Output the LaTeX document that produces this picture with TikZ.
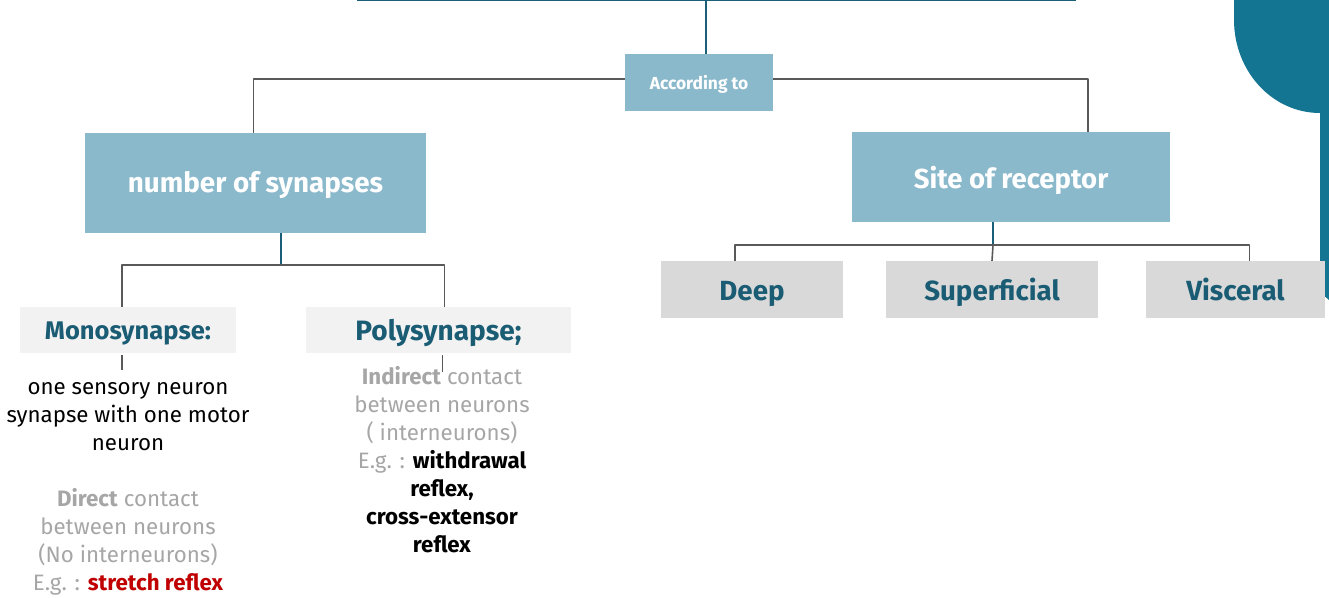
\documentclass[tikz,border=0pt]{standalone}
\usepackage{fontspec}
\setmainfont{Fira Sans}
\usetikzlibrary{positioning}
\definecolor{deepteal}{HTML}{1B5E78}
\definecolor{boxblue}{HTML}{8BB9CC}
\definecolor{boxgray}{HTML}{D9D9D9}
\definecolor{boxlight}{HTML}{F2F2F2}
\definecolor{titleteal}{HTML}{1A5C73}
\definecolor{notegray}{HTML}{A6A6A6}
\definecolor{linkgray}{HTML}{595959}
\definecolor{decoteal}{HTML}{147592}
\definecolor{egred}{HTML}{C00000}
\begin{document}
\begin{tikzpicture}[x=1pt,y=-1pt,line join=round,
  bluebox/.style={fill=boxblue,text=white,inner sep=0pt,text height=21pt,text depth=0pt},
  graybox/.style={fill=boxgray,text=titleteal,font=\fontsize{27.7}{30}\selectfont\bfseries,inner sep=0pt,minimum height=57pt,text height=21pt,text depth=0pt},
  lightbox/.style={fill=boxlight,text=titleteal,inner sep=0pt,minimum height=46pt,text height=21pt,text depth=0pt},
  link/.style={linkgray,line width=1.6pt},
  tlink/.style={deepteal,line width=1.8pt},
  note/.style={align=center,font=\fontsize{22.3}{28}\selectfont,inner sep=0pt}]
\useasboundingbox (0,0) rectangle (1329,597);
% corner decoration
\fill[decoteal] (1234,0) -- (1329,0) -- (1329,113) -- (1320,113) .. controls (1272,113) and (1234,71) .. (1234,20) -- cycle;
\fill[decoteal] (1320,110) -- (1329,110) -- (1329,300) .. controls (1323,296) and (1320,290) .. (1320,282) -- cycle;
% boxes
\node[bluebox,minimum width=148pt,minimum height=57pt,text height=13pt,font=\fontsize{17.4}{20}\selectfont\bfseries] (acc) at (699,82.5) {According to};
\node[bluebox,minimum width=341pt,minimum height=100pt,text height=19pt,font=\fontsize{27.8}{30}\selectfont\bfseries] (num) at (255.5,183) {number of synapses};
\node[bluebox,minimum width=318pt,minimum height=90pt,text height=22pt,font=\fontsize{27.5}{30}\selectfont\bfseries] (site) at (1011,177) {Site of receptor};
\node[lightbox,minimum width=216pt,text height=19pt,font=\fontsize{25.5}{28}\selectfont\bfseries] (mono) at (128,330) {Monosynapse:};
\node[lightbox,minimum width=265pt,font=\fontsize{28}{30}\selectfont\bfseries] (poly) at (438.5,330) {Polysynapse;};
\node[graybox,minimum width=182pt] (deep) at (752,289.5) {Deep};
\node[graybox,minimum width=212pt] (sup) at (992,289.5) {Superficial};
\node[graybox,minimum width=179pt] (visc) at (1235.5,289.5) {Visceral};
% notes
\node[note,anchor=north] (monotxt) at (128,382) {one sensory neuron\\synapse with one motor\\neuron};
\node[note,anchor=north,text=notegray] (monoeg) at (128,488) {\textbf{Direct} contact\\between neurons\\(No interneurons)\\E.g. : \textcolor{egred}{\textbf{stretch reflex}}};
\node[note,anchor=north,text=notegray] (polytxt) at (442,366) {\textbf{Indirect} contact\\between neurons\\( interneurons)\\E.g. : \textcolor{black}{\textbf{withdrawal}}\\\textcolor{black}{\textbf{reflex,}}\\\textcolor{black}{\textbf{cross-extensor}}\\\textcolor{black}{\textbf{reflex}}};
% connectors
\coordinate (tl) at (357,0);
\coordinate (tr) at (1076,0);
\coordinate (top) at (706,0);
\coordinate (nb) at (281,265);
\coordinate (sb) at (993,245);
\draw[tlink] (tl) -- (tr);
\draw[tlink] (top) -- (top |- acc.north);
\draw[link] ([yshift=3.5pt]acc.west) -| ([xshift=-2pt]num.north);
\draw[link] ([yshift=3.5pt]acc.east) -| ([xshift=-82pt]site.north east);
\draw[tlink] (num.south -| nb) -- (nb);
\draw[link] ([xshift=-6pt]mono.north) |- (nb) -| ([xshift=6pt]poly.north);
\draw[tlink] (site.south -| sb) -- (sb);
\draw[link] ([xshift=-17pt]deep.north) |- (sb) -| ([xshift=14pt]visc.north);
\draw[link] (sb) -- (sup.north);
\draw[link] ([xshift=-6pt,yshift=-2pt]mono.south) -- ([xshift=-6pt,yshift=12pt]mono.south |- monotxt.north);
\draw[link] ([xshift=4pt,yshift=-2pt]poly.south) -- ([xshift=4pt,yshift=-6pt]poly.south |- polytxt.north);
\end{tikzpicture}
\end{document}
